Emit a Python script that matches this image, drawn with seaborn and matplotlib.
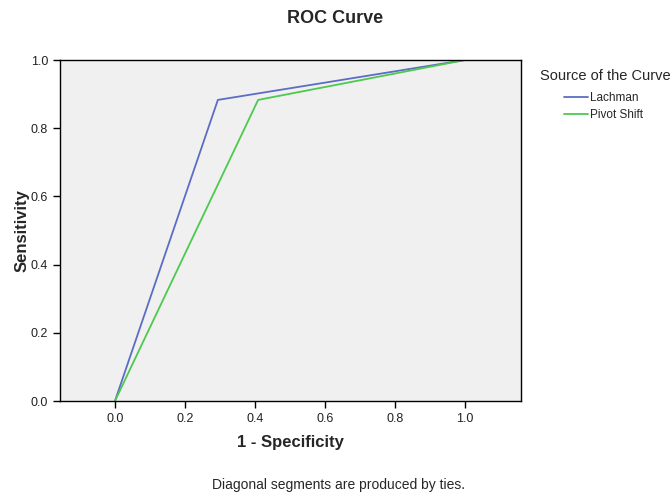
import matplotlib
matplotlib.use("Agg")
import matplotlib.pyplot as plt
import seaborn as sns
import pandas as pd

# ROC points
lachman_fpr = [0.0, 0.294, 1.0]
lachman_tpr = [0.0, 0.883, 1.0]
pivot_fpr = [0.0, 0.409, 1.0]
pivot_tpr = [0.0, 0.883, 1.0]
series_names = ["Lachman", "Pivot Shift"]
ticks = [0.0, 0.2, 0.4, 0.6, 0.8, 1.0]

df = pd.DataFrame({
    "fpr": lachman_fpr + pivot_fpr,
    "tpr": lachman_tpr + pivot_tpr,
    "curve": [series_names[0]] * 3 + [series_names[1]] * 3,
})

sns.set_style("ticks")
plt.rcParams["font.family"] = ["Liberation Sans", "DejaVu Sans"]

fig = plt.figure(figsize=(6.71, 4.96), dpi=100)
ax = fig.add_axes([0.0894, 0.1915, 0.6871, 0.6875])
ax.set_facecolor("#f0f0f0")

sns.lineplot(data=df, x="fpr", y="tpr", hue="curve", sort=False,
             palette=["#5b6dc4", "#4dc94d"], linewidth=1.3, ax=ax,
             estimator=None)

ax.set_xlim(-0.157, 1.16)
ax.set_ylim(0, 1.0)
ax.set_xticks(ticks)
ax.set_yticks(ticks)
ax.set_xticklabels([f"{t:.1f}" for t in ticks], fontsize=9, color="#222222")
ax.set_yticklabels([f"{t:.1f}" for t in ticks], fontsize=9, color="#222222")
ax.tick_params(length=5, width=1, color="black")
for s in ax.spines.values():
    s.set_color("black")
    s.set_linewidth(1)

ax.set_xlabel("1 - Specificity", fontsize=12, fontweight="bold", labelpad=7.5)
ax.set_ylabel("Sensitivity", fontsize=12, fontweight="bold", labelpad=1)
fig.text(0.5, 0.962, "ROC Curve", ha="center", va="center",
         fontsize=13, fontweight="bold")
fig.text(0.505, 0.022, "Diagonal segments are produced by ties.",
         ha="center", va="center", fontsize=10)

# legend: title as separate text, entries indented under it
fig.text(540 / 671, 1 - 76 / 496, "Source of the Curve", ha="left",
         va="center", fontsize=10.5)
ax.get_legend().remove()
handles, labels = ax.get_legend_handles_labels()
fig.legend(handles, labels, loc="upper left",
           bbox_to_anchor=(564 / 671, 1 - 92 / 496), frameon=False,
           fontsize=8.5, handlelength=2.0, handletextpad=0.2,
           labelspacing=0.45, borderpad=0, borderaxespad=0)

fig.savefig("out.png", dpi=100, facecolor="white")
